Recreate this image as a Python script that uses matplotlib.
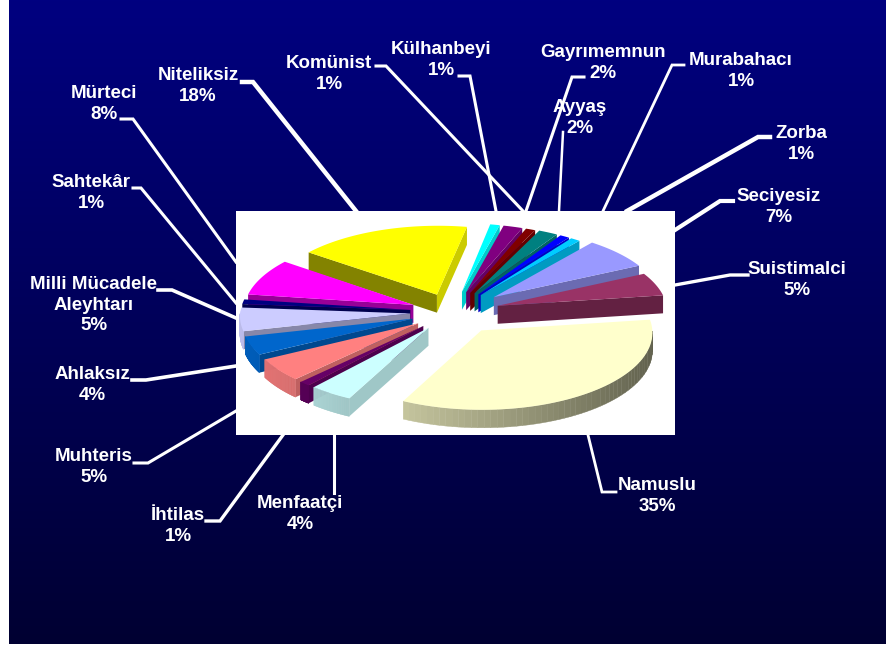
import numpy as np
import matplotlib
matplotlib.use("Agg")
import matplotlib.pyplot as plt
from matplotlib.colors import to_rgb
from matplotlib.patches import Polygon, Rectangle

plt.rcParams['font.family'] = ['Liberation Sans', 'DejaVu Sans']

# Dilimler, saat yönünde Namuslu'dan başlayarak
dilimler = ["Namuslu", "Menfaatçi", "İhtilas", "Muhteris", "Ahlaksız",
            "Milli Mücadele\nAleyhtarı", "Sahtekâr", "Mürteci", "Niteliksiz",
            "Külhanbeyi", "Gayrımemnun", "Komünist", "Ayyaş", "Murabahacı",
            "Zorba", "Seciyesiz", "Suistimalci"]
yuzdeler = [35, 4, 1, 5, 4, 5, 1, 8, 18, 1, 2, 1, 2, 1, 1, 7, 5]

renkler = ["#FFFFCC", "#CCFFFF", "#660066", "#FF8080", "#0066CC", "#CCCCFF",
           "#000080", "#FF00FF", "#FFFF00", "#00FFFF", "#800080", "#800000",
           "#008080", "#0000FF", "#00CCFF", "#9999FF", "#993366"]

# Dilimlerin dışarı açılması (piksel)
acilmalar = [50, 42, 42, 42, 42, 42, 42, 42, 42, 47, 47, 47, 48, 48, 48, 54, 48]

# Etiket merkezleri (piksel)
etiket_yer = [(657, 496), (300, 514), (178, 526), (94, 467), (92, 385),
              (94, 305), (91, 193), (104, 104), (198, 86),
              (441, 60), (603, 63), (329, 74), (580, 118), (741, 71),
              (801, 144), (779, 207), (797, 280)]

# Kılavuz çizgileri (piksel)
kilavuz = [[(616, 492), (602, 492), (588, 435)],
           [(334, 493), (334, 435)],
           [(206, 521), (220, 521), (283, 435)],
           [(134, 463), (148, 463), (236, 411)],
           [(132, 380), (146, 380), (236, 366)],
           [(158, 290), (172, 290), (236, 318)],
           [(133, 188), (141, 188), (236, 303)],
           [(121, 119), (133, 119), (236, 262)],
           [(242, 82), (253, 82), (356, 211)],
           [(459, 76), (470, 76), (496, 211)],
           [(584, 77), (572, 77), (526, 211)],
           [(376, 66), (386, 66), (523, 211)],
           [(563, 132), (559, 211)],
           [(684, 65), (672, 65), (603, 211)],
           [(770, 137), (758, 137), (627, 211)],
           [(733, 201), (720, 201), (675, 230)],
           [(748, 275), (730, 275), (675, 285)]]
kalin = [2, 2.2, 2.4, 2.2, 2.6, 2.6, 2.2, 2.2, 3.2, 2.2, 2.2, 2.2, 1.8, 2, 3.2, 3, 2.4]

CX, CY = 452, 312
R, K, DERINLIK = 170, 0.45, 18
BASLA = 8

fig = plt.figure(figsize=(8.86, 6.47), dpi=100)
ax = fig.add_axes([0, 0, 1, 1])

# Arka plan
gradyan = np.zeros((256, 1, 3))
gradyan[:, 0, 2] = np.linspace(128, 50, 256) / 255
ax.imshow(gradyan, extent=(9, 886, 644, 0), aspect="auto", zorder=0)
ax.set_xlim(0, 886)
ax.set_ylim(647, 0)
ax.axis("off")

# Kılavuz çizgileri ve beyaz alan
for yol, lw in zip(kilavuz, kalin):
    xs, ys = zip(*yol)
    ax.plot(xs, ys, color="white", lw=lw, solid_joinstyle="miter", zorder=1)
ax.add_patch(Rectangle((236, 211), 439, 224, fc="white", ec="none", zorder=2))


def izdusum(x, y):
    s = np.where(y > 0, 1 - 0.0004 * y, 1 - 0.00015 * y)
    return CX + x * s, CY - y * K * s


def golge(renk, oran):
    return tuple(c * oran for c in to_rgb(renk))


toplam = sum(yuzdeler)
kenarlar = BASLA - np.cumsum([0] + yuzdeler) * 360 / toplam
parcalar = []
for i, renk in enumerate(renkler):
    a1, a2 = kenarlar[i], kenarlar[i + 1]
    orta = np.radians((a1 + a2) / 2)
    parcalar.append((np.sin(orta) * acilmalar[i], a1, a2, orta, acilmalar[i], renk))

# Arkadan öne doğru çiz
z = 3
for _, a1, a2, orta, acilma, renk in sorted(parcalar, key=lambda p: -p[0]):
    ox, oy = np.cos(orta) * acilma, np.sin(orta) * acilma
    t = np.radians(np.linspace(a1, a2, 60))
    xs = ox + R * np.cos(t)
    ys = oy + R * np.sin(t)
    px, py = izdusum(xs, ys)
    ax0, ay0 = izdusum(ox, oy)

    # kesik yüzler
    for t_kenar, isaret, xk, yk in [(t[0], 1, px[0], py[0]), (t[-1], -1, px[-1], py[-1])]:
        nx, ny = np.cos(t_kenar + isaret * np.pi / 2), np.sin(t_kenar + isaret * np.pi / 2)
        if ny < 0:
            yuz = [(ax0, ay0), (xk, yk), (xk, yk + DERINLIK), (ax0, ay0 + DERINLIK)]
            ax.add_patch(Polygon(yuz, fc=golge(renk, 0.62 + 0.18 * nx), ec="none", zorder=z))
            z += 1

    # dış duvar
    for j in range(len(t) - 1):
        tm = (t[j] + t[j + 1]) / 2
        if np.sin(tm) < 0:
            duvar = [(px[j], py[j]), (px[j + 1], py[j + 1]),
                     (px[j + 1], py[j + 1] + DERINLIK), (px[j], py[j] + DERINLIK)]
            c = golge(renk, 0.65 - 0.27 * np.cos(tm))
            ax.add_patch(Polygon(duvar, fc=c, ec=c, lw=0.3, zorder=z))
    z += 1

    # üst yüz
    ust = [(ax0, ay0)] + list(zip(px, py))
    ax.add_patch(Polygon(ust, fc=renk, ec="none", zorder=z))
    z += 1

# Etiketler
for ad, yuzde, (x, y) in zip(dilimler, yuzdeler, etiket_yer):
    ax.text(x, y, f"{ad}\n{yuzde}%", color="white", fontsize=13.5, fontweight="bold",
            ha="center", va="center", ma="center", linespacing=1.25, zorder=500)

fig.savefig("out.png", dpi=100, facecolor="white")
